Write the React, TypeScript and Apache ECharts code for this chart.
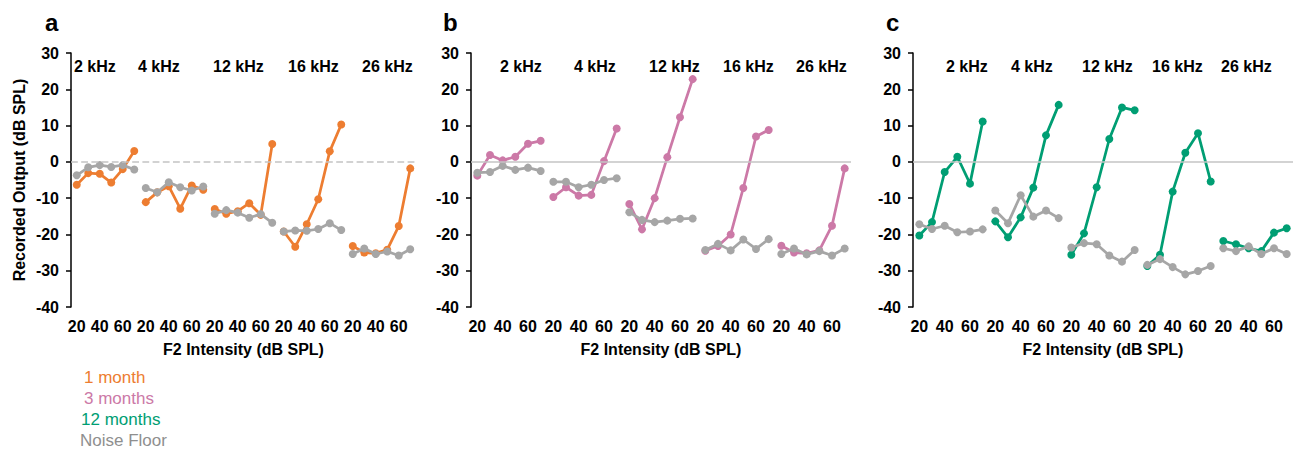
import React, { useEffect, useRef } from "react";
import * as echarts from "echarts";

// ---------- data ----------
const GROUP_X = ["20", "30", "40", "50", "60", "70"];
const FREQS = ["2 kHz", "4 kHz", "12 kHz", "16 kHz", "26 kHz"];
const PANELS = ["a", "b", "c"];
const Y_TICKS = [-40, -30, -20, -10, 0, 10, 20, 30];

// panel a: 1 month
const month1 = [
  [-6.3, -3.1, -3.3, -5.7, -2.0, 3.0],
  [-11.1, -8.4, -6.7, -12.9, -6.5, -7.7],
  [-13.0, -14.3, -13.6, -11.4, -14.6, 4.9],
  [-19.2, -23.4, -17.2, -10.3, 2.9, 10.3],
  [-23.2, -25.0, -25.2, -24.2, -17.7, -1.8],
];
const month1Noise = [
  [-3.7, -1.5, -0.9, -1.4, -0.9, -2.1],
  [-7.2, -8.4, -5.6, -7.0, -7.9, -6.8],
  [-14.3, -13.3, -14.0, -15.4, -14.4, -16.8],
  [-19.2, -18.9, -19.0, -18.5, -16.9, -18.8],
  [-25.4, -23.9, -25.4, -24.7, -25.8, -24.1],
];
// panel b: 3 months
const month3 = [
  [-3.8, 1.9, 0.4, 1.4, 5.0, 5.8],
  [-9.7, -7.0, -9.3, -9.1, 0.2, 9.2],
  [-11.6, -18.6, -10.0, 1.3, 12.3, 22.8],
  [-24.5, -23.2, -20.0, -7.2, 7.0, 8.8],
  [-23.1, -25.0, -25.2, -24.4, -17.6, -1.8],
];
const month3Noise = [
  [-3.0, -2.8, -1.1, -2.2, -1.6, -2.5],
  [-5.5, -5.5, -7.0, -6.3, -5.0, -4.5],
  [-13.9, -16.0, -16.6, -16.2, -15.7, -15.6],
  [-24.3, -22.6, -24.4, -21.4, -24.0, -21.3],
  [-25.4, -23.9, -25.5, -24.6, -25.8, -23.9],
];
// panel c: 12 months
const month12 = [
  [-20.3, -16.6, -2.8, 1.4, -6.0, 11.1],
  [-16.4, -20.8, -15.3, -7.1, 7.3, 15.7],
  [-25.6, -19.7, -7.0, 6.3, 15.0, 14.2],
  [-28.7, -25.6, -8.2, 2.5, 7.9, -5.4],
  [-21.8, -22.7, -23.8, -24.6, -19.5, -18.3],
];
const month12Noise = [
  [-17.2, -18.5, -17.6, -19.4, -19.2, -18.6],
  [-13.4, -16.9, -9.2, -15.1, -13.4, -15.5],
  [-23.6, -22.4, -22.7, -25.8, -27.5, -24.3],
  [-28.4, -26.8, -29.0, -31.0, -30.1, -28.7],
  [-23.8, -24.6, -23.3, -25.4, -23.8, -25.4],
];

const SERIES_NAMES = ["1 month", "3 months", "12 months"];
const NOISE_NAME = "Noise Floor";

// ---------- styling ----------
const COLORS = ["#ED7D31", "#CC79A7", "#009E73"];
const NOISE_COLOR = "#A6A6A6";
const FONT = "Arial, 'Liberation Sans', sans-serif";

const GRIDS = [
  { left: 71, top: 53, width: 345, height: 254 },
  { left: 471, top: 53, width: 380, height: 254 },
  { left: 913, top: 53, width: 380, height: 254 },
];
const FREQ_LABEL_X = [
  [74, 138, 213, 288, 362],
  [500, 574, 649, 723, 796],
  [946, 1011, 1082, 1152, 1221],
];
const LETTER_X = [45, 443, 886];

export default function App() {
  const ref = useRef<HTMLDivElement>(null);

  useEffect(() => {
    document.body.style.margin = "0";
    if (!ref.current) return;
    const chart = echarts.init(ref.current, null, { renderer: "svg" });

    const categories: string[] = [];
    FREQS.forEach(() => GROUP_X.forEach((x) => categories.push(x)));

    const panelData = [
      [month1, month1Noise],
      [month3, month3Noise],
      [month12, month12Noise],
    ];

    const series: any[] = [];
    panelData.forEach(([colored, noise], p) => {
      // zero reference line
      series.push({
        type: "line",
        name: "zero" + p,
        xAxisIndex: p,
        yAxisIndex: p,
        data: [],
        silent: true,
        markLine: {
          silent: true,
          symbol: ["none", "none"],
          label: { show: false },
          lineStyle: {
            color: "#C4C4C4",
            width: 1.7,
            type: p === 0 ? "dashed" : "solid",
          },
          data: [{ yAxis: 0 }],
        },
      });
      colored.forEach((vals, g) => {
        series.push({
          type: "line",
          name: SERIES_NAMES[p],
          xAxisIndex: p,
          yAxisIndex: p,
          data: vals.map((v, i) => [g * GROUP_X.length + i, v]),
          symbol: "circle",
          symbolSize: 8,
          showSymbol: true,
          showAllSymbol: true,
          lineStyle: { color: COLORS[p], width: 2.75 },
          itemStyle: { color: COLORS[p] },
          z: 3,
        });
      });
      noise.forEach((vals, g) => {
        series.push({
          type: "line",
          name: NOISE_NAME,
          xAxisIndex: p,
          yAxisIndex: p,
          data: vals.map((v, i) => [g * GROUP_X.length + i, v]),
          symbol: "circle",
          symbolSize: 8,
          showSymbol: true,
          showAllSymbol: true,
          lineStyle: { color: NOISE_COLOR, width: 2.75 },
          itemStyle: { color: NOISE_COLOR },
          z: 4,
        });
      });
    });

    const graphics: any[] = [];
    PANELS.forEach((letter, p) => {
      graphics.push({
        type: "text",
        x: LETTER_X[p],
        y: 22,
        style: {
          text: letter,
          font: `bold 24px ${FONT}`,
          fill: "#000",
          textAlign: "left",
          textVerticalAlign: "middle",
        },
      });
      FREQS.forEach((f, g) => {
        graphics.push({
          type: "text",
          x: FREQ_LABEL_X[p][g],
          y: 66,
          style: {
            text: f,
            font: `bold 16px ${FONT}`,
            fill: "#000",
            textAlign: "left",
            textVerticalAlign: "middle",
          },
        });
      });
    });
    const legendItems = [
      { text: SERIES_NAMES[0], color: COLORS[0], x: 84, y: 377 },
      { text: SERIES_NAMES[1], color: COLORS[1], x: 84, y: 398 },
      { text: SERIES_NAMES[2], color: COLORS[2], x: 81, y: 419 },
      { text: NOISE_NAME, color: "#8F8F8F", x: 80, y: 440 },
    ];
    legendItems.forEach((it) => {
      graphics.push({
        type: "text",
        x: it.x,
        y: it.y,
        style: {
          text: it.text,
          font: `17px ${FONT}`,
          fill: it.color,
          textAlign: "left",
          textVerticalAlign: "middle",
        },
      });
    });

    chart.setOption({
      animation: false,
      backgroundColor: "#fff",
      grid: GRIDS.map((g) => ({ ...g, containLabel: false })),
      xAxis: GRIDS.map((_, p) => ({
        type: "category",
        gridIndex: p,
        data: categories,
        boundaryGap: true,
        axisLine: { show: false },
        axisTick: { show: false },
        splitLine: { show: false },
        axisLabel: {
          interval: 1,
          margin: 11,
          color: "#000",
          fontWeight: "bold",
          fontSize: 16,
          fontFamily: FONT,
        },
        name: "F2 Intensity (dB SPL)",
        nameLocation: "middle",
        nameGap: 34,
        nameTextStyle: {
          color: "#000",
          fontWeight: "bold",
          fontSize: 16,
          fontFamily: FONT,
        },
      })),
      yAxis: GRIDS.map((_, p) => ({
        type: "value",
        gridIndex: p,
        min: Y_TICKS[0],
        max: Y_TICKS[Y_TICKS.length - 1],
        interval: 10,
        axisLine: { show: true, lineStyle: { color: "#000", width: 1.5 } },
        axisTick: { show: true, length: 5, lineStyle: { color: "#000", width: 1.5 } },
        splitLine: { show: false },
        axisLabel: {
          margin: 12,
          color: "#000",
          fontWeight: "bold",
          fontSize: 16,
          fontFamily: FONT,
        },
        name: p === 0 ? "Recorded Output (dB SPL)" : "",
        nameLocation: "middle",
        nameRotate: 90,
        nameGap: 44,
        nameTextStyle: {
          color: "#000",
          fontWeight: "bold",
          fontSize: 16,
          fontFamily: FONT,
        },
      })),
      series,
      graphic: graphics,
    });

    return () => chart.dispose();
  }, []);

  return <div ref={ref} style={{ width: 1298, height: 449 }} />;
}
